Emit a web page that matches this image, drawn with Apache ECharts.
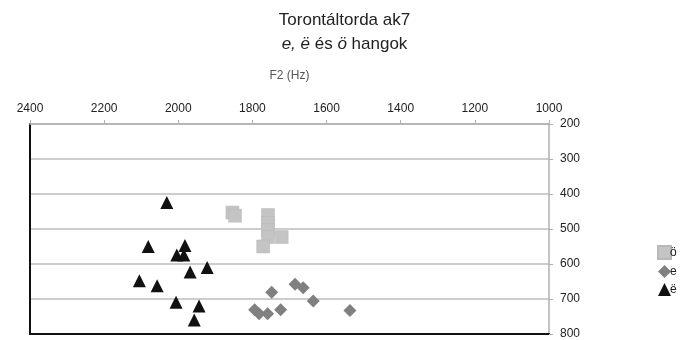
<!DOCTYPE html>
<html>
<head>
<meta charset="utf-8">
<script src="https://cdn.jsdelivr.net/npm/echarts@6/dist/echarts.min.js"></script>
<style>
html,body{margin:0;padding:0;background:#fff;}
#c{width:689px;height:340px;}
</style>
</head>
<body>
<div id="c"></div>
<script>
// ö (squares)
var oF2 = [1854, 1847, 1758, 1758, 1758, 1758, 1721, 1771];
var oF1 = [453, 462, 460, 483, 503, 523, 523, 550];
// e (diamonds)
var eF2 = [1748, 1685, 1663, 1636, 1794, 1782, 1759, 1724, 1537];
var eF1 = [681, 658, 668, 706, 731, 742, 742, 731, 733];
// ë (triangles)
var ebF2 = [2031, 2081, 1982, 2004, 1985, 1968, 1922, 2105, 2057, 2006, 1944, 1957];
var ebF1 = [424, 550, 547, 574, 574, 623, 610, 648, 662, 709, 720, 760];

var seriesNames = ['ö', 'e', 'ë'];
var xName = 'F2 (Hz)';
var xMin = 1000, xMax = 2400, xStep = 200;
var yMin = 200, yMax = 800, yStep = 100;

function pairs(a, b) { return a.map(function (v, i) { return [v, b[i]]; }); }
function plain(v) { return String(v); }

var chart = echarts.init(document.getElementById('c'), null, {renderer: 'canvas'});
var font = 'Liberation Sans, Arial, sans-serif';
chart.setOption({
  animation: false,
  backgroundColor: '#fff',
  textStyle: {fontFamily: font},
  title: {
    left: 'center',
    top: 3,
    text: 'Torontáltorda ak7\n{i|e, ë} és {i|ö} hangok',
    textStyle: {
      fontSize: 17, fontWeight: 'normal', color: '#222', fontFamily: font, lineHeight: 24,
      rich: {i: {fontSize: 17, fontStyle: 'italic', color: '#222', fontFamily: font, lineHeight: 24}}
    }
  },
  legend: {
    orient: 'vertical',
    left: 652,
    top: 240,
    itemWidth: 13,
    itemHeight: 13,
    itemGap: 5,
    textStyle: {fontSize: 12, color: '#222', padding: [0, 0, 0, -6]},
    data: [
      {name: seriesNames[0], icon: 'rect'},
      {name: seriesNames[1], icon: 'diamond'},
      {name: seriesNames[2], icon: 'triangle'}
    ]
  },
  grid: {left: 30, right: 140, top: 124, bottom: 4},
  xAxis: [{
    type: 'value', position: 'top', inverse: true,
    min: xMin, max: xMax, interval: xStep,
    name: xName, nameLocation: 'middle', nameGap: 42,
    nameTextStyle: {fontSize: 12, color: '#555'},
    axisLine: {show: true, lineStyle: {color: '#b0b0b0', width: 1.5}},
    axisTick: {show: true, inside: false, length: 4, lineStyle: {color: '#b0b0b0'}},
    axisLabel: {fontSize: 12, color: '#222', margin: 9, formatter: plain},
    splitLine: {show: false}
  }, {
    type: 'value', position: 'bottom', inverse: true,
    min: xMin, max: xMax, interval: xStep,
    axisLine: {show: true, onZero: false, lineStyle: {color: '#111', width: 2}},
    axisTick: {show: false}, axisLabel: {show: false}, splitLine: {show: false}
  }],
  yAxis: [{
    type: 'value', position: 'right', inverse: true,
    min: yMin, max: yMax, interval: yStep,
    axisLine: {show: true, lineStyle: {color: '#b0b0b0', width: 1.5}},
    axisTick: {show: true, inside: false, length: 4, lineStyle: {color: '#b0b0b0'}},
    axisLabel: {fontSize: 12, color: '#222', margin: 11, formatter: plain},
    splitLine: {show: true, lineStyle: {color: '#bdbdbd', width: 1.5}}
  }, {
    type: 'value', position: 'left', inverse: true,
    min: yMin, max: yMax, interval: yStep,
    axisLine: {show: true, onZero: false, lineStyle: {color: '#111', width: 2}},
    axisTick: {show: false}, axisLabel: {show: false}, splitLine: {show: false}
  }],
  series: [{
    name: seriesNames[0], type: 'scatter', xAxisIndex: 0, yAxisIndex: 0,
    symbol: 'rect', symbolSize: 13,
    itemStyle: {color: '#c4c4c4', borderColor: '#b8b8b8', borderWidth: 0.5, opacity: 1},
    data: pairs(oF2, oF1)
  }, {
    name: seriesNames[1], type: 'scatter', xAxisIndex: 0, yAxisIndex: 0,
    symbol: 'diamond', symbolSize: 13,
    itemStyle: {color: '#808080', opacity: 1},
    data: pairs(eF2, eF1)
  }, {
    name: seriesNames[2], type: 'scatter', xAxisIndex: 0, yAxisIndex: 0,
    symbol: 'triangle', symbolSize: 13,
    itemStyle: {color: '#111', opacity: 1},
    data: pairs(ebF2, ebF1)
  }]
});
</script>
</body>
</html>
